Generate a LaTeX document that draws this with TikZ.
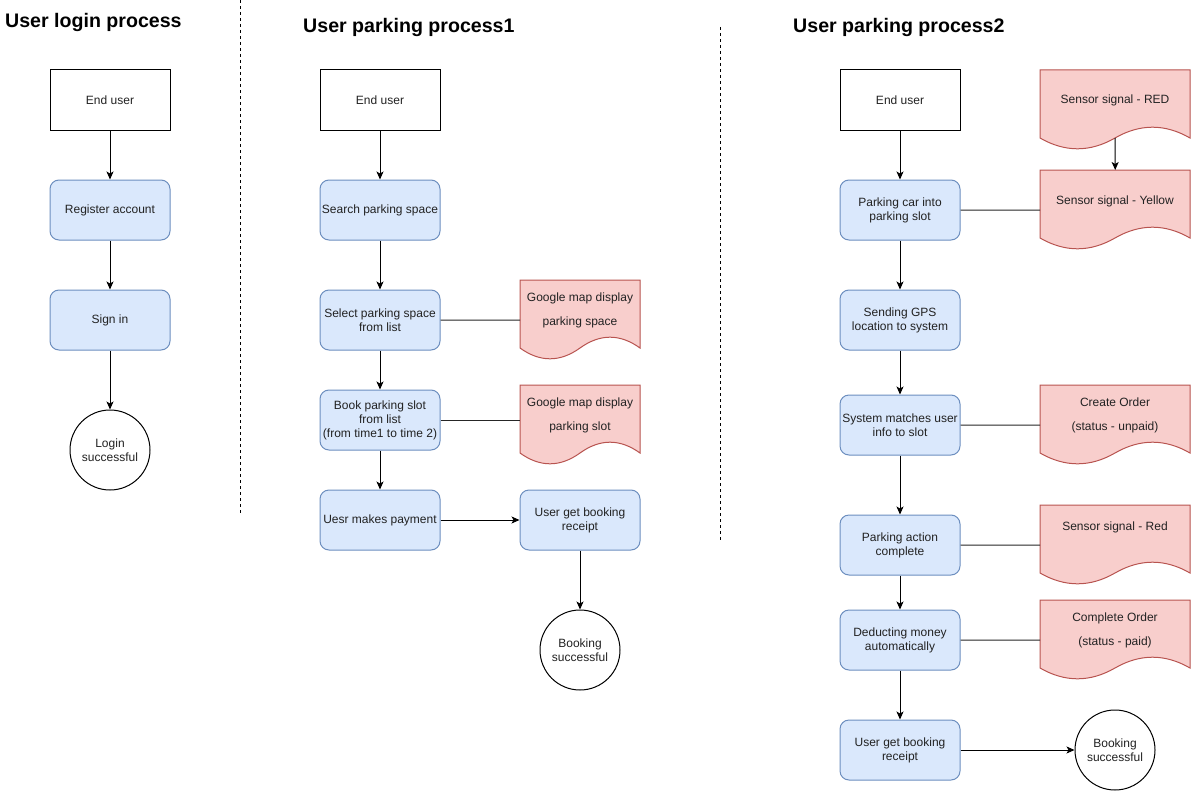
\documentclass[tikz,border=0pt]{standalone}
\usepackage{fontspec}
\setmainfont{Liberation Sans}
\usetikzlibrary{arrows.meta}
\definecolor{bluefill}{HTML}{DAE8FC}
\definecolor{bluedraw}{HTML}{6C8EBF}
\definecolor{redfill}{HTML}{F8CECC}
\definecolor{reddraw}{HTML}{B85450}
\definecolor{txt}{HTML}{222222}
\tikzset{
  box/.style={draw=black, fill=white, line width=1pt, minimum width=120pt, minimum height=60pt, inner sep=1pt, align=center, text=txt, font=\fontsize{12}{14}\selectfont},
  bluebox/.style={box, draw=bluedraw, fill=bluefill, rounded corners=9pt},
  endcircle/.style={circle, draw=black, fill=white, line width=1pt, minimum size=80pt, inner sep=0pt, align=center, text=txt, font=\fontsize{12}{14}\selectfont},
  docsty/.style={draw=reddraw, fill=redfill, line width=1pt},
  doctext/.style={align=center, text=txt, inner sep=0pt, font=\fontsize{12}{24}\selectfont},
  title/.style={font=\fontsize{19.6}{22}\selectfont\bfseries, anchor=base west, inner sep=0pt, text=black},
  arr/.style={draw=black, line width=1pt, -{Stealth[length=8pt,width=7pt,inset=2pt]}},
  link/.style={draw=black!85, line width=1pt},
  divider/.style={draw=black, line width=0.8pt, dash pattern=on 3pt off 3pt},
}
% #1 x0, #2 y0 (top), #3 width, #4 name
\newcommand\docshape[4]{%
  \draw[docsty] (#1,#2) -- ({#1+#3},#2) -- ({#1+#3},{#2+68})
    .. controls ({#1+0.8333*#3},{#2+53.6}) and ({#1+0.6667*#3},{#2+53.6}) .. ({#1+0.5*#3},{#2+68})
    .. controls ({#1+0.3333*#3},{#2+82.4}) and ({#1+0.1667*#3},{#2+82.4}) .. (#1,{#2+68}) -- cycle;
  \node[inner sep=0pt, minimum width=#3pt, minimum height=80pt, anchor=north west] (#4) at (#1,#2) {};
  \coordinate (#4-wave) at ({#1+0.5*#3},{#2+68});
}
\begin{document}
\begin{tikzpicture}[x=1pt, y=-1pt]
\useasboundingbox (0,0) rectangle (1191,792);

% titles
\node[title] (t1) at (5,28) {User login process};
\node[title] (t2) at (303,33) {User parking process1};
\node[title] (t3) at (793,33) {User parking process2};

% dividers
\coordinate (d1a) at (240,0);
\coordinate (d1b) at (240,513);
\coordinate (d2a) at (720,27);
\coordinate (d2b) at (720,540);
\draw[divider] (d1a) -- (d1b);
\draw[divider] (d2a) -- (d2b);

% column 1
\node[box] (eu1) at (110,100) {End user};
\node[bluebox] (reg) at (110,210) {Register account};
\node[bluebox] (sign) at (110,320) {Sign in};
\node[endcircle] (login) at (110,450) {Login\\successful};
\draw[arr] (eu1) -- (reg);
\draw[arr] (reg) -- (sign);
\draw[arr] (sign) -- (login);

% column 2
\node[box] (eu2) at (380,100) {End user};
\node[bluebox] (search) at (380,210) {Search parking space};
\node[bluebox] (select) at (380,320) {Select parking space\\from list};
\node[bluebox] (book) at (380,420) {Book parking slot\\from list\\(from time1 to time 2)};
\node[bluebox] (pay) at (380,520) {Uesr makes payment};
\node[bluebox] (rec1) at (580,520) {User get booking\\receipt};
\node[endcircle] (bs1) at (580,650) {Booking\\successful};
\docshape{520}{280}{120}{gm1}
\docshape{520}{385}{120}{gm2}
\node[doctext] (gm1t) at (580,310) {Google map display\\parking space};
\node[doctext] (gm2t) at (580,415) {Google map display\\parking slot};
\draw[arr] (eu2) -- (search);
\draw[arr] (search) -- (select);
\draw[arr] (select) -- (book);
\draw[arr] (book) -- (pay);
\draw[arr] (pay) -- (rec1);
\draw[arr] (rec1) -- (bs1);
\draw[link] (select.east) -- (gm1.west);
\draw[link] (book.east) -- (book.east -| gm2.west);

% column 3
\node[box] (eu3) at (900,100) {End user};
\node[bluebox] (park) at (900,210) {Parking car into\\parking slot};
\node[bluebox] (gps) at (900,320) {Sending GPS\\location to system};
\node[bluebox] (match) at (900,425) {System matches user\\info to slot};
\node[bluebox] (action) at (900,545) {Parking action\\complete};
\node[bluebox] (deduct) at (900,640) {Deducting money\\automatically};
\node[bluebox] (rec2) at (900,750) {User get booking\\receipt};
\node[endcircle] (bs2) at (1115,750) {Booking\\successful};
\docshape{1040}{70}{150}{sred1}
\docshape{1040}{170}{150}{syel}
\docshape{1040}{385}{150}{corder}
\docshape{1040}{505}{150}{sred2}
\docshape{1040}{600}{150}{porder}
\node[doctext] (sred1t) at (1115,100) {Sensor signal - RED};
\node[doctext] (syelt) at (1115,201) {Sensor signal - Yellow};
\node[doctext] (cordert) at (1115,415) {Create Order\\(status - unpaid)};
\node[doctext] (sred2t) at (1115,527) {Sensor signal - Red};
\node[doctext] (pordert) at (1115,630) {Complete Order\\(status - paid)};
\draw[arr] (eu3) -- (park);
\draw[arr] (park) -- (gps);
\draw[arr] (gps) -- (match);
\draw[arr] (match) -- (action);
\draw[arr] (action) -- (deduct);
\draw[arr] (deduct) -- (rec2);
\draw[arr] (rec2) -- (bs2);
\draw[arr] (sred1-wave) -- (syel.north);
\draw[link] (park.east) -- (syel.west);
\draw[link] (match.east) -- (corder.west);
\draw[link] (action.east) -- (sred2.west);
\draw[link] (deduct.east) -- (porder.west);
\end{tikzpicture}
\end{document}
